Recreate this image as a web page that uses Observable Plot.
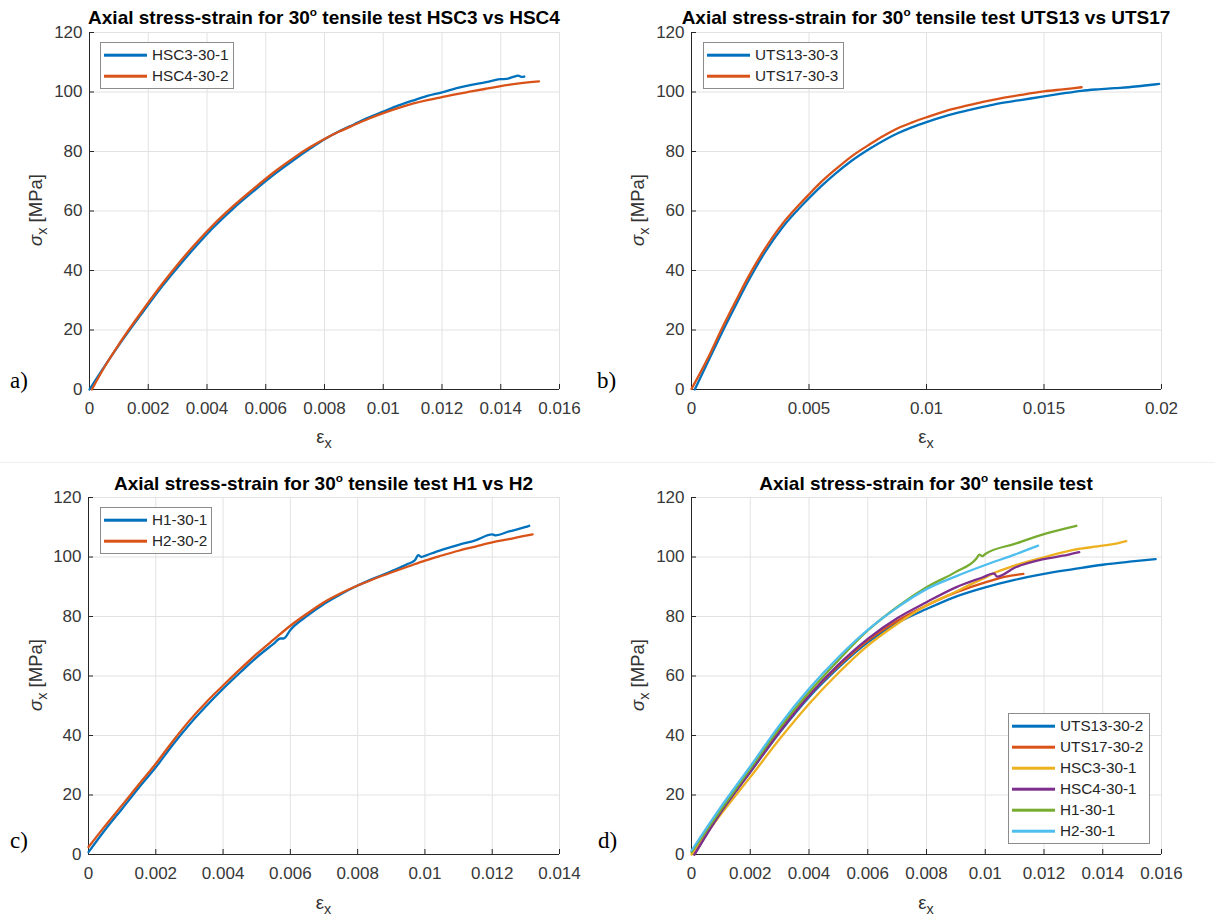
<!DOCTYPE html>
<html>
<head>
<meta charset="utf-8">
<script src="https://cdn.jsdelivr.net/npm/d3@7"></script>
<script src="https://cdn.jsdelivr.net/npm/@observablehq/plot@0.6"></script>
<style>
html,body{margin:0;padding:0;background:#fff;}
#root{position:relative;width:1215px;height:916px;overflow:hidden;font-family:"Liberation Sans",Arial,Helvetica,sans-serif;}
.abs{position:absolute;}
.title{font-weight:bold;font-size:19px;color:#000;white-space:nowrap;transform:translate(-50%,-50%);line-height:1;}
.title sup{font-size:0.62em;vertical-align:0.62em;line-height:0;}
.ylab{font-size:18.5px;color:#333;white-space:nowrap;transform:translate(-50%,-50%) rotate(-90deg);line-height:1;}
.xlab{font-size:18.5px;color:#333;white-space:nowrap;transform:translate(-50%,-50%);line-height:1;}
.sub{font-size:0.78em;position:relative;top:0.38em;}
.plab{font-family:"Liberation Serif","Times New Roman",serif;font-size:23px;color:#000;transform:translateY(-50%);line-height:1;}
.legend{border:1px solid #8c8c8c;background:#fff;box-sizing:border-box;}
.legend .sw{position:absolute;left:3px;width:43px;height:2.6px;transform:translateY(-50%);}
.legend .lt{position:absolute;left:51px;font-size:15.3px;color:#262626;white-space:nowrap;transform:translateY(-50%);line-height:1;}
.sep{position:absolute;left:0;width:1215px;height:1px;background:#efefef;}
</style>
</head>
<body>
<div id="root"></div>
<script>
// ---------- shared ----------
const lineColors = ["#0072BD", "#D95319", "#EDB120", "#7E2F8E", "#77AC30", "#4DBEEE"];
const yTicks = [0, 20, 40, 60, 80, 100, 120];
const xTicksA = [0, 0.002, 0.004, 0.006, 0.008, 0.01, 0.012, 0.014, 0.016];
const xTicksB = [0, 0.005, 0.01, 0.015, 0.02];
const xTicksC = [0, 0.002, 0.004, 0.006, 0.008, 0.01, 0.012, 0.014];
const xTicksD = [0, 0.002, 0.004, 0.006, 0.008, 0.01, 0.012, 0.014, 0.016];
const titlePrefix = "Axial stress-strain for 30";
const titleSup = "o";
const titleSuffixes = [" tensile test HSC3 vs HSC4", " tensile test UTS13 vs UTS17", " tensile test H1 vs H2", " tensile test"];
const panelLetters = ["a)", "b)", "c)", "d)"];
const labelsA = ["HSC3-30-1", "HSC4-30-2"];
const labelsB = ["UTS13-30-3", "UTS17-30-3"];
const labelsC = ["H1-30-1", "H2-30-2"];
const labelsD = ["UTS13-30-2", "UTS17-30-2", "HSC3-30-1", "HSC4-30-1", "H1-30-1", "H2-30-1"];

// ---------- panel a ----------
const aHSC3_strain = [0, 0.0005, 0.001, 0.0018, 0.0025, 0.0031, 0.0036, 0.0042, 0.0049, 0.0056, 0.0063, 0.007, 0.0075, 0.008, 0.0085, 0.009, 0.0095, 0.01, 0.0105, 0.011, 0.0115, 0.012, 0.0125, 0.013, 0.0135, 0.0138, 0.014, 0.0142, 0.0144, 0.0146, 0.0147, 0.0148];
const aHSC3_stress = [0, 7.6, 14.9, 25.8, 35, 42.2, 47.9, 54.3, 60.9, 66.8, 72.4, 77.5, 80.9, 84.1, 86.8, 89.1, 91.4, 93.4, 95.4, 97.1, 98.7, 99.9, 101.3, 102.4, 103.3, 104.0, 104.3, 104.4, 105.0, 105.5, 105.1, 105.2];
const aHSC4_strain = [0.00008, 0.0005, 0.001, 0.0018, 0.0025, 0.0031, 0.0036, 0.0042, 0.0049, 0.0056, 0.0063, 0.007, 0.0075, 0.008, 0.0085, 0.009, 0.0095, 0.01, 0.0105, 0.011, 0.0115, 0.012, 0.0125, 0.013, 0.0135, 0.014, 0.0145, 0.015, 0.0153];
const aHSC4_stress = [0, 7.4, 15.2, 26.5, 35.8, 43.2, 48.9, 55.2, 61.7, 67.6, 73.2, 78.2, 81.4, 84.2, 86.7, 88.9, 91, 92.9, 94.6, 96.1, 97.3, 98.3, 99.3, 100.2, 101.1, 102, 102.7, 103.3, 103.6];

// ---------- panel b ----------
const bUTS13_strain = [0.00014, 0.0007, 0.0013, 0.0019, 0.0024, 0.0031, 0.0039, 0.0045, 0.005, 0.0055, 0.0061, 0.0068, 0.0076, 0.0082, 0.0088, 0.0094, 0.01, 0.0108, 0.0117, 0.0124, 0.0131, 0.014, 0.015, 0.0158, 0.0166, 0.0173, 0.018, 0.0186, 0.0192, 0.0199];
const bUTS13_stress = [0, 9.3, 19.2, 28.6, 36.2, 45.8, 54.8, 60.2, 64.3, 68.2, 72.4, 76.8, 81, 83.8, 86.2, 88.2, 89.9, 91.9, 93.7, 95, 96.2, 97.3, 98.5, 99.5, 100.4, 100.9, 101.3, 101.6, 102.1, 102.7];
const bUTS17_strain = [0, 0.0007, 0.0013, 0.0019, 0.0024, 0.0031, 0.0039, 0.0045, 0.005, 0.0055, 0.0061, 0.0068, 0.0076, 0.0082, 0.0088, 0.0094, 0.01, 0.0108, 0.0117, 0.0124, 0.0131, 0.014, 0.015, 0.0158, 0.0166];
const bUTS17_stress = [0.2, 10.6, 20.6, 30, 37.6, 47, 56, 61.4, 65.6, 69.6, 73.8, 78.3, 82.5, 85.4, 87.9, 89.8, 91.5, 93.6, 95.4, 96.7, 97.8, 99, 100.2, 100.9, 101.6];

// ---------- panel c ----------
const cH1_strain = [0, 0.0005, 0.001, 0.0015, 0.002, 0.0025, 0.003, 0.0035, 0.004, 0.0045, 0.005, 0.0055, 0.0057, 0.0058, 0.006, 0.0065, 0.007, 0.0075, 0.008, 0.0085, 0.009, 0.0095, 0.0097, 0.0098, 0.0099, 0.01, 0.0105, 0.011, 0.0115, 0.012, 0.0121, 0.0125, 0.013, 0.0131];
const cH1_stress = [0.8, 8.4, 15.4, 22.5, 29.3, 36.8, 43.7, 49.9, 55.7, 61.1, 66.3, 70.8, 72.6, 72.6, 75.5, 80.2, 84.2, 87.5, 90.4, 92.9, 95.2, 97.7, 98.9, 100.6, 100, 100.4, 102.4, 104.1, 105.6, 107.6, 107.3, 108.6, 110.1, 110.5];
const cH2_strain = [0, 0.0005, 0.001, 0.0015, 0.002, 0.0025, 0.003, 0.0035, 0.004, 0.0045, 0.005, 0.0055, 0.006, 0.0065, 0.007, 0.0075, 0.008, 0.0085, 0.009, 0.0095, 0.01, 0.0105, 0.011, 0.0115, 0.012, 0.0125, 0.013, 0.0132];
const cH2_stress = [2.5, 9.7, 16.6, 23.6, 30.5, 38, 45, 51.2, 56.8, 62.2, 67.4, 72.2, 76.9, 81, 84.8, 87.8, 90.4, 92.7, 94.8, 96.8, 98.8, 100.5, 102.1, 103.5, 104.9, 106, 107.2, 107.6];

// ---------- panel d ----------
const dUTS13_strain = [0.0001, 0.001, 0.002, 0.003, 0.004, 0.005, 0.006, 0.007, 0.008, 0.009, 0.01, 0.011, 0.012, 0.013, 0.014, 0.015, 0.0158];
const dUTS13_stress = [0, 14.5, 27.7, 41, 52.9, 62.8, 71.3, 77.8, 82.5, 86.7, 89.8, 92.3, 94.3, 95.9, 97.4, 98.5, 99.3];
const dUTS17_strain = [0.0001, 0.001, 0.002, 0.003, 0.004, 0.005, 0.006, 0.007, 0.008, 0.009, 0.01, 0.0107, 0.0113];
const dUTS17_stress = [0, 14.8, 28.2, 41.5, 53.4, 63.3, 71.9, 78.5, 83.7, 88.1, 91.5, 93.4, 94.3];
const dHSC3_strain = [0, 0.001, 0.002, 0.003, 0.004, 0.005, 0.006, 0.007, 0.008, 0.009, 0.0095, 0.01, 0.0103, 0.011, 0.012, 0.013, 0.014, 0.0145, 0.0148];
const dHSC3_stress = [0, 13.5, 26, 38.8, 50.6, 61, 70.2, 77.5, 83.7, 88.3, 90.8, 93, 94.6, 97.1, 99.9, 102.4, 103.8, 104.6, 105.3];
const dHSC4_strain = [0.0001, 0.001, 0.002, 0.003, 0.004, 0.005, 0.006, 0.007, 0.008, 0.009, 0.0099, 0.0103, 0.0104, 0.011, 0.012, 0.0128, 0.0132];
const dHSC4_stress = [0, 14.2, 27.7, 41.2, 53.4, 63.8, 72.5, 79.4, 84.8, 89.8, 93.1, 94.5, 93.4, 96.4, 99.3, 100.7, 101.6];
const dH1_strain = [0, 0.001, 0.002, 0.003, 0.004, 0.005, 0.006, 0.007, 0.008, 0.009, 0.0097, 0.0098, 0.0099, 0.01, 0.011, 0.012, 0.0131];
const dH1_stress = [0.8, 15, 28.8, 42.5, 54.5, 65.3, 75.3, 83.2, 89.8, 95, 99.5, 100.8, 100.3, 101, 104.4, 107.7, 110.5];
const dH2_strain = [0, 0.001, 0.002, 0.003, 0.004, 0.005, 0.006, 0.007, 0.008, 0.009, 0.01, 0.011, 0.0118];
const dH2_stress = [1.3, 16, 29.6, 43.5, 55.7, 66.3, 75.5, 83, 89.2, 93.5, 97.3, 100.8, 103.8];

// ---------- layout ----------
const panels = [
  {left: 0, top: 0, w: 600, h: 460, ml: 89, mr: 41, mt: 32, mb: 71, xTicks: xTicksA, labels: labelsA,
   series: [[aHSC3_strain, aHSC3_stress], [aHSC4_strain, aHSC4_stress]],
   titleY: 17, yLab: [36, 210], xLabY: 437, letter: [10, 380], legend: {x: 100, y: 42, w: 134, h: 47}},
  {left: 600, top: 0, w: 615, h: 460, ml: 91, mr: 54, mt: 32, mb: 71, xTicks: xTicksB, labels: labelsB,
   series: [[bUTS13_strain, bUTS13_stress], [bUTS17_strain, bUTS17_stress]],
   titleY: 17, yLab: [638, 210], xLabY: 437, letter: [597, 380], legend: {x: 703, y: 42, w: 141, h: 47}},
  {left: 0, top: 462, w: 600, h: 454, ml: 88, mr: 41, mt: 35, mb: 62, xTicks: xTicksC, labels: labelsC,
   series: [[cH1_strain, cH1_stress], [cH2_strain, cH2_stress]],
   titleY: 483, yLab: [36, 675], xLabY: 903, letter: [10, 840], legend: {x: 100, y: 507, w: 112, h: 47}},
  {left: 600, top: 462, w: 615, h: 454, ml: 91, mr: 54, mt: 35, mb: 62, xTicks: xTicksD, labels: labelsD,
   series: [[dUTS13_strain, dUTS13_stress], [dUTS17_strain, dUTS17_stress], [dHSC3_strain, dHSC3_stress],
            [dHSC4_strain, dHSC4_stress], [dH1_strain, dH1_stress], [dH2_strain, dH2_stress]],
   titleY: 483, yLab: [638, 675], xLabY: 903, letter: [598, 840], legend: {x: 1008, y: 713, w: 142, h: 131}}
];

const root = document.getElementById("root");
const sep = document.createElement("div");
sep.className = "sep"; sep.style.top = "462px";
root.appendChild(sep);

const fmt = d3.format("~g");
const axisColor = "#262626";

panels.forEach((p, pi) => {
  const rows = p.series.flatMap(([xs, ys], si) => xs.map((x, i) => ({series: p.labels[si], strain: x, stress: ys[i]})));
  const chart = Plot.plot({
    width: p.w, height: p.h,
    marginLeft: p.ml, marginRight: p.mr, marginTop: p.mt, marginBottom: p.mb,
    x: {domain: [p.xTicks[0], p.xTicks[p.xTicks.length - 1]]},
    y: {domain: [yTicks[0], yTicks[yTicks.length - 1]]},
    color: {domain: p.labels, range: lineColors.slice(0, p.labels.length)},
    style: {fontFamily: "'Liberation Sans', Arial, sans-serif", fontSize: "17px", color: "#383838", background: "transparent", overflow: "visible"},
    marks: [
      Plot.gridX(p.xTicks, {stroke: "#e2e2e2", strokeOpacity: 1}),
      Plot.gridY(yTicks, {stroke: "#e2e2e2", strokeOpacity: 1}),
      Plot.axisX(p.xTicks, {tickSize: 0, tickPadding: 12, tickFormat: fmt, label: null, fontSize: 17}),
      Plot.axisY(yTicks, {tickSize: 0, tickPadding: 7, label: null, fontSize: 17}),
      Plot.axisX(p.xTicks, {tickSize: -5, text: null, stroke: axisColor, label: null}),
      Plot.axisY(yTicks, {tickSize: -5, text: null, stroke: axisColor, label: null}),
      Plot.ruleX([p.xTicks[0]], {stroke: axisColor}),
      Plot.ruleY([yTicks[0]], {stroke: axisColor}),
      Plot.line(rows, {x: "strain", y: "stress", z: "series", stroke: "series", strokeWidth: 2.3, curve: "monotone-x", strokeLinejoin: "round", strokeLinecap: "round"})
    ]
  });
  chart.style.position = "absolute";
  chart.style.left = p.left + "px";
  chart.style.top = p.top + "px";
  root.appendChild(chart);

  const cx = p.left + p.ml + (p.w - p.ml - p.mr) / 2;

  const t = document.createElement("div");
  t.className = "abs title";
  t.style.left = cx + "px"; t.style.top = p.titleY + "px";
  t.innerHTML = titlePrefix + "<sup>" + titleSup + "</sup>" + titleSuffixes[pi];
  root.appendChild(t);

  const yl = document.createElement("div");
  yl.className = "abs ylab";
  yl.style.left = p.yLab[0] + "px"; yl.style.top = p.yLab[1] + "px";
  yl.innerHTML = "<i>σ</i><span class='sub'>x</span> [MPa]";
  root.appendChild(yl);

  const xl = document.createElement("div");
  xl.className = "abs xlab";
  xl.style.left = cx + "px"; xl.style.top = p.xLabY + "px";
  xl.innerHTML = "ε<span class='sub'>x</span>";
  root.appendChild(xl);

  const pl = document.createElement("div");
  pl.className = "abs plab";
  pl.style.left = p.letter[0] + "px"; pl.style.top = p.letter[1] + "px";
  pl.textContent = panelLetters[pi];
  root.appendChild(pl);

  const lg = document.createElement("div");
  lg.className = "abs legend";
  lg.style.left = p.legend.x + "px"; lg.style.top = p.legend.y + "px";
  lg.style.width = p.legend.w + "px"; lg.style.height = p.legend.h + "px";
  p.labels.forEach((lab, i) => {
    const yy = 12 + 21 * i;
    const sw = document.createElement("div");
    sw.className = "sw"; sw.style.top = yy + "px"; sw.style.background = lineColors[i];
    lg.appendChild(sw);
    const lt = document.createElement("div");
    lt.className = "lt"; lt.style.top = yy + "px"; lt.textContent = lab;
    lg.appendChild(lt);
  });
  root.appendChild(lg);
});
</script>
</body>
</html>
